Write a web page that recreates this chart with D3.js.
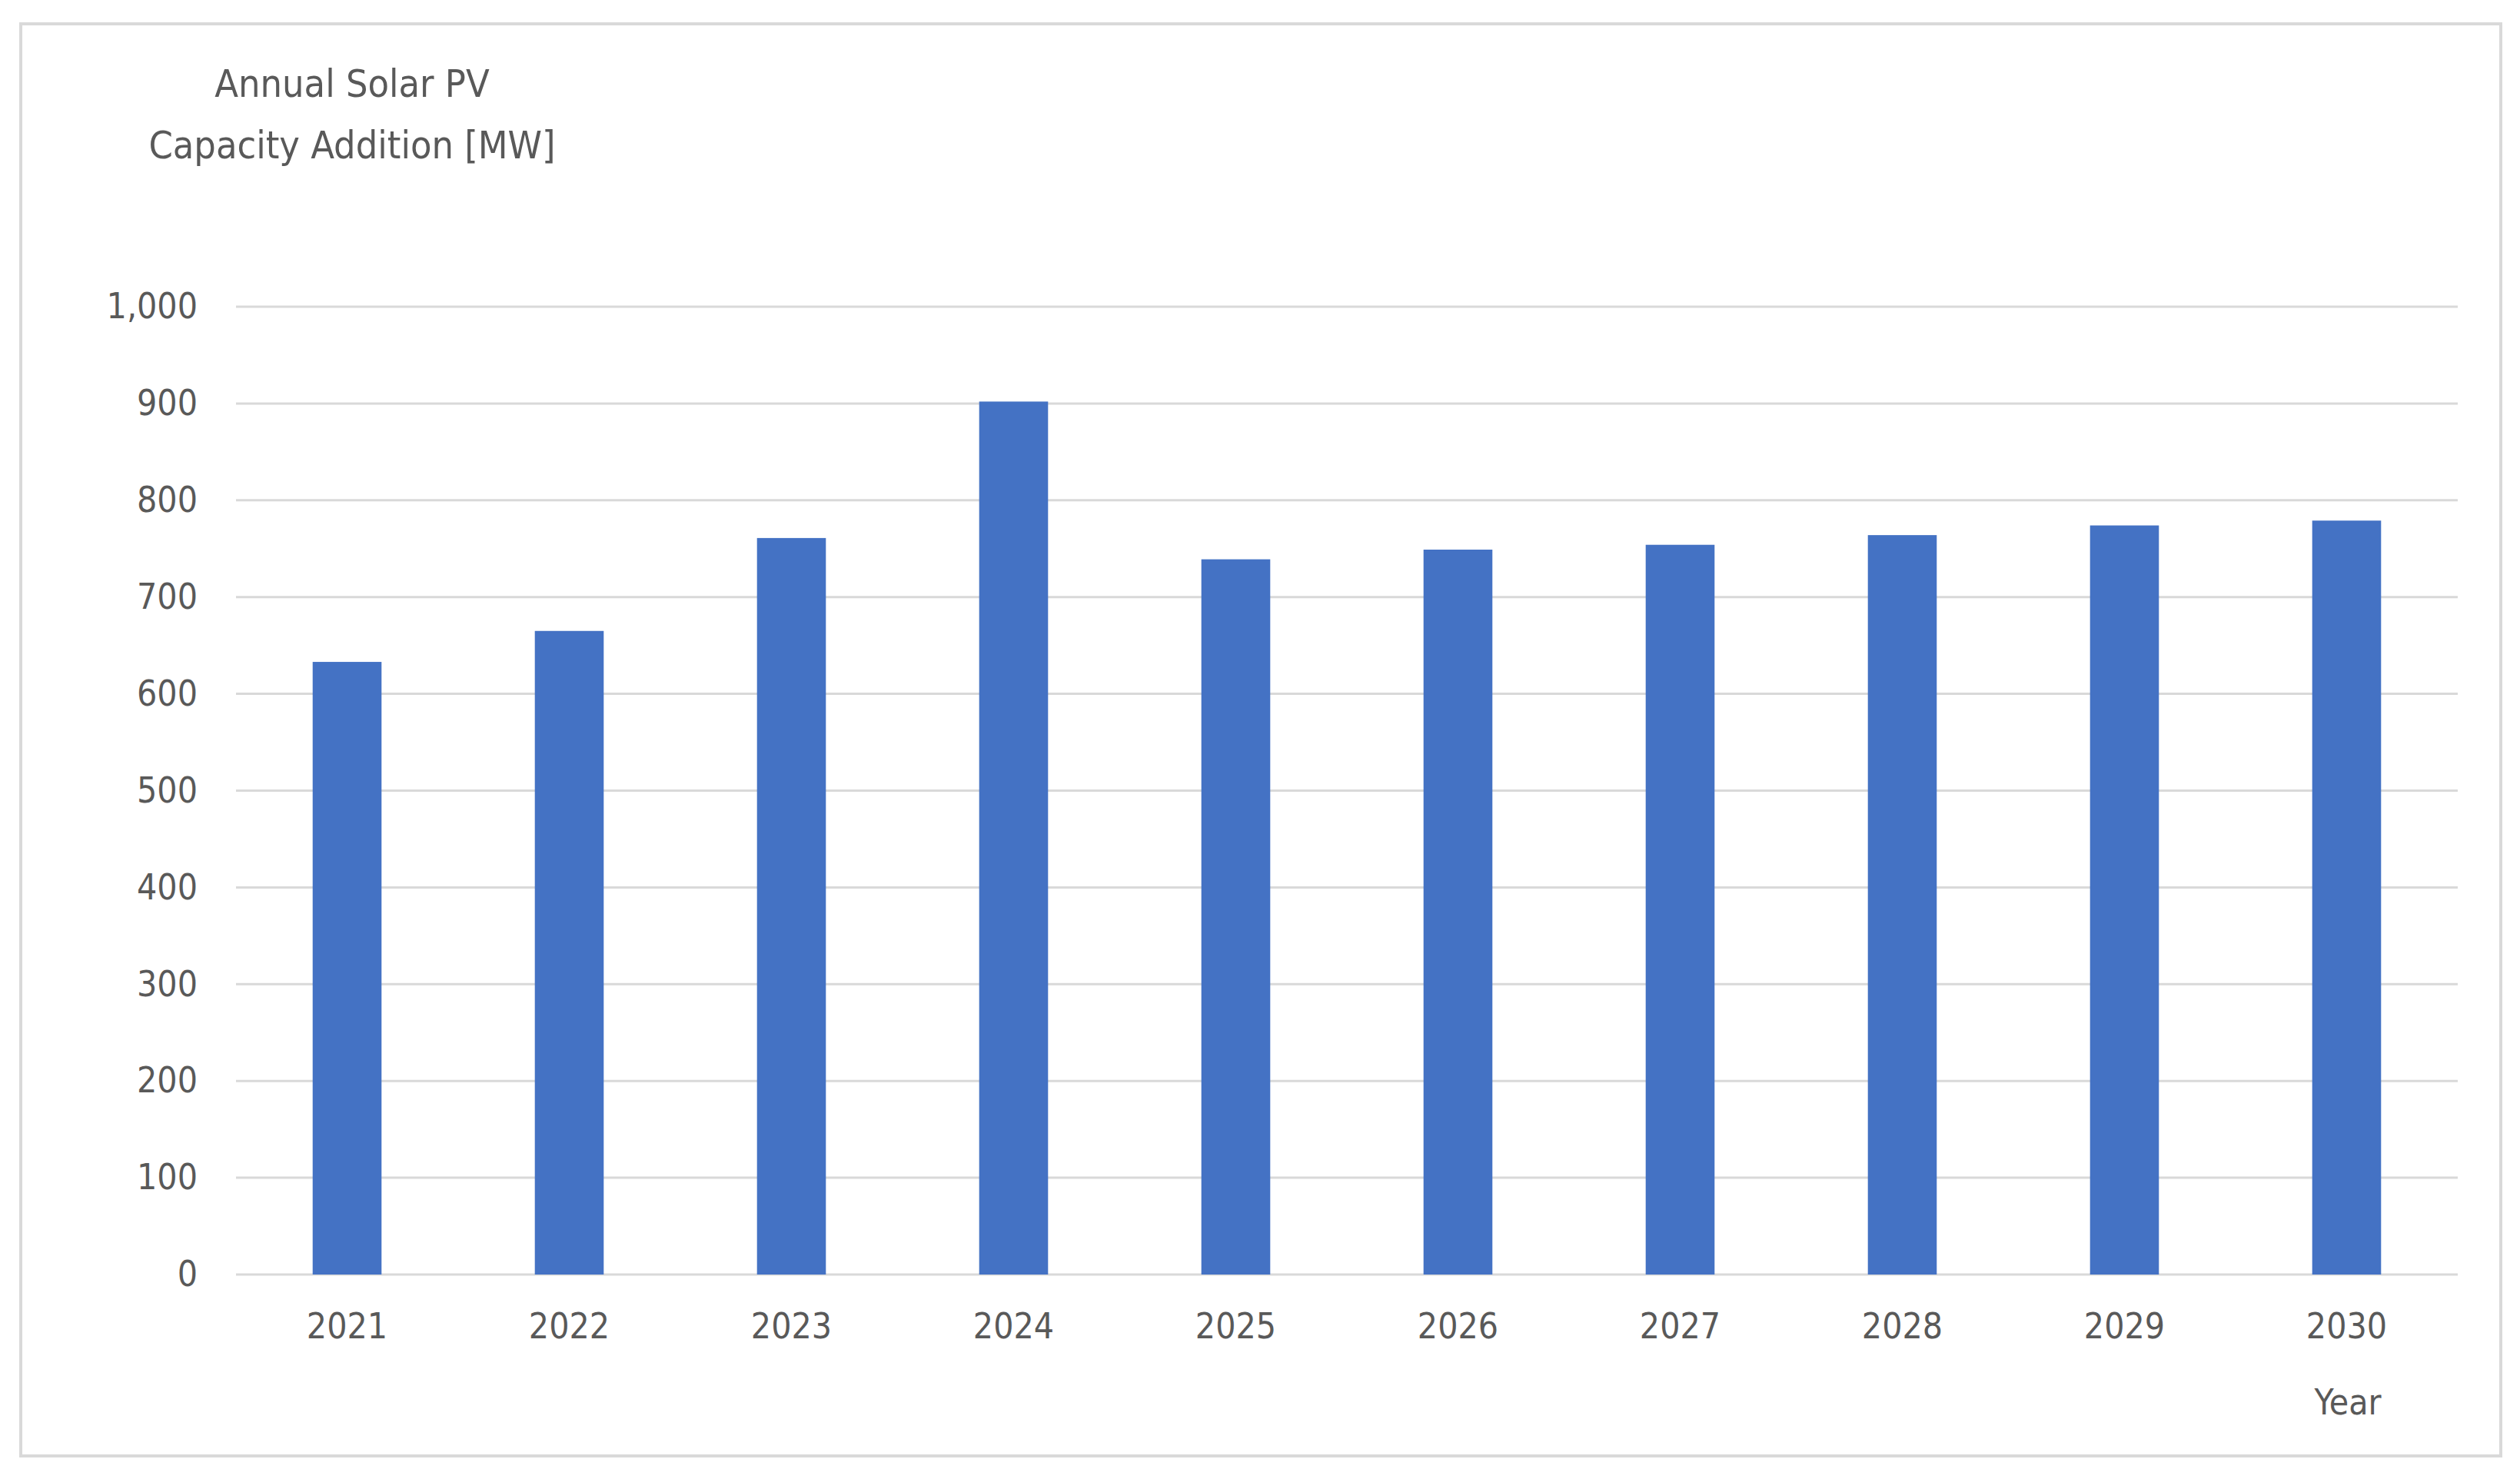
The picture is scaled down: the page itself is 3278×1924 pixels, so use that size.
<!DOCTYPE html>
<html>
<head>
<meta charset="utf-8">
<script src="https://cdn.jsdelivr.net/npm/d3@7"></script>
<style>
  body { margin: 0; background: #fff; }
  text { font-family: "Liberation Sans Narrow", "DejaVu Sans Condensed", sans-serif; fill: #595959; }
</style>
</head>
<body>
<div id="chart"></div>
<script>
// chart data
const YEARS = ["2021", "2022", "2023", "2024", "2025", "2026", "2027", "2028", "2029", "2030"];
const CAPACITY = [633, 665, 761, 902, 739, 749, 754, 764, 774, 779];
const Y_TICKS = [0, 100, 200, 300, 400, 500, 600, 700, 800, 900, 1000];

const FRAME_WIDTH = 3278;
const FRAME_HEIGHT = 1924;
const MARGINS = {left: 307, right: 81, top: 399, bottom: 266};
const VIS_WIDTH = FRAME_WIDTH - MARGINS.left - MARGINS.right;
const VIS_HEIGHT = FRAME_HEIGHT - MARGINS.top - MARGINS.bottom;

const FRAME = d3.select("#chart")
                .append("svg")
                  .attr("width", FRAME_WIDTH)
                  .attr("height", FRAME_HEIGHT);

// outer border
FRAME.append("rect")
    .attr("x", 27).attr("y", 31)
    .attr("width", 3226).attr("height", 1863)
    .attr("fill", "none").attr("stroke", "#d9d9d9").attr("stroke-width", 4);

const X_SCALE = d3.scaleBand().domain(YEARS).range([0, VIS_WIDTH]).paddingInner(0.69).paddingOuter(0.345);
const Y_SCALE = d3.scaleLinear().domain([0, 1000]).range([VIS_HEIGHT, 0]);

const G = FRAME.append("g").attr("transform", "translate(" + MARGINS.left + "," + MARGINS.top + ")");

// gridlines
G.selectAll(".grid")
  .data(Y_TICKS)
  .enter()
  .append("line")
    .attr("x1", 0).attr("x2", VIS_WIDTH)
    .attr("y1", (d) => Y_SCALE(d)).attr("y2", (d) => Y_SCALE(d))
    .attr("stroke", "#d9d9d9").attr("stroke-width", 3);

// bars
G.selectAll(".bar")
  .data(YEARS)
  .enter()
  .append("rect")
    .attr("x", (d) => X_SCALE(d))
    .attr("y", (d, i) => Y_SCALE(CAPACITY[i]))
    .attr("width", X_SCALE.bandwidth())
    .attr("height", (d, i) => VIS_HEIGHT - Y_SCALE(CAPACITY[i]))
    .attr("fill", "#4472c4");

// y axis
const yAxis = G.append("g")
  .call(d3.axisLeft(Y_SCALE).tickValues(Y_TICKS).tickSize(0).tickPadding(50));
yAxis.select(".domain").remove();
yAxis.selectAll("text").attr("font-size", 46).attr("font-family", null);

// x axis
const xAxis = G.append("g")
  .attr("transform", "translate(0," + VIS_HEIGHT + ")")
  .call(d3.axisBottom(X_SCALE).tickSize(0).tickPadding(50));
xAxis.select(".domain").remove();
xAxis.selectAll("text").attr("font-size", 46).attr("font-family", null);

// axis titles
FRAME.append("text").attr("x", 458).attr("y", 126).attr("text-anchor", "middle")
  .attr("font-size", 50).text("Annual Solar PV");
FRAME.append("text").attr("x", 458).attr("y", 206).attr("text-anchor", "middle")
  .attr("font-size", 50).text("Capacity Addition [MW]");
FRAME.append("text").attr("x", 3054).attr("y", 1840).attr("text-anchor", "middle")
  .attr("font-size", 46).text("Year");
</script>
</body>
</html>
